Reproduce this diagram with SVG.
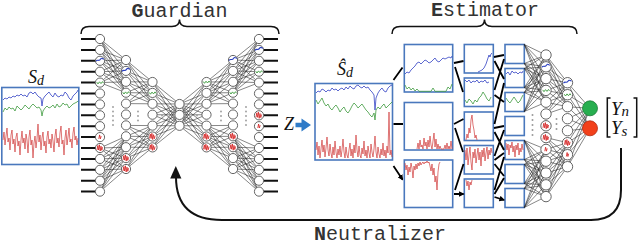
<svg xmlns="http://www.w3.org/2000/svg" xmlns:xlink="http://www.w3.org/1999/xlink" width="640" height="245" viewBox="0 0 640 245">
<style>
.lbl{font-family:"Liberation Mono","DejaVu Sans Mono",monospace;font-size:20px;fill:#333}
.b{font-weight:bold}
.math{font-family:"Liberation Serif","DejaVu Serif",serif;font-style:italic;fill:#111}
.brace{fill:none;stroke:#111;stroke-width:1.5}
.stub{fill:none;stroke:#111;stroke-width:2}
.mesh{fill:none;stroke:#222;stroke-width:0.55;stroke-linejoin:round}
.nd{fill:#fff;stroke:#555;stroke-width:0.9}
.dot{fill:#999}
.box{fill:#fff;stroke:#4a78bd;stroke-width:1.6}
.sb{fill:none;stroke:#3343c4;stroke-width:0.8}
.sg{fill:none;stroke:#3f9a3f;stroke-width:0.8}
.sr{fill:none;stroke:#d03a3a;stroke-width:0.7}
.arr{fill:none;stroke:#000;stroke-width:1.8;marker-end:url(#ah)}
.mb{fill:none;stroke:#2a3fbf;stroke-width:1.1}
.mg{fill:none;stroke:#3a9a3a;stroke-width:0.9}
.mr{fill:none;stroke:#d42020;stroke-width:0.8}
</style>
<defs>
<marker id="ah" viewBox="0 0 10 10" refX="8" refY="5" markerWidth="3.2" markerHeight="3.2" orient="auto"><path d="M0 0L10 5L0 10z" fill="#000"/></marker>
<path id="kb" class="mb" d="M-4 0.5C-2.5 -2 -1 1 0.5 -1.5S3 -1 4 -2"/>
<path id="kg" class="mg" d="M-3.3 -0.5L-2 1.3L-0.5 -0.8L1 1L2.5 -1L3.5 0.5"/>
<path id="kr" class="mr" d="M-3 2L-2.2 -2.5L-1.4 2L-0.6 -3.2L0.2 3L1 -1.8L1.8 2.3L2.6 -0.8"/>
<path id="ks" class="mr" d="M-1.2 1.8L-0.4 -2.2L0.4 1.8L1.2 -1"/>
</defs>
<rect width="640" height="245" fill="#fff"/>

<g id="sd">
<rect class="box" x="1.8" y="87.5" width="77" height="77"/>
<polyline class="sb" points="3,100 5,98 7,99 9,97 11,98 13,96 15,97 17,95 19,96 21,94 23,96 25,95 27,97 29,93 31,92 33,94 35,92 37,95 39,97 41,98 42,106 43,99 45,96 47,94 49,92 51,95 53,97 55,93 57,96 59,97 61,95 63,96 65,92 67,94 69,98 71,100 73,96 75,94 77,92 78,90"/>
<polyline class="sg" points="3,112 5,108 7,110 9,107 11,109 13,108 15,111 17,106 19,108 21,110 23,108 25,105 27,107 29,109 31,106 33,104 35,106 37,108 39,107 41,110 42,116 43,111 45,108 47,106 49,108 51,107 53,105 55,108 57,104 59,107 61,106 63,103 65,105 67,104 69,108 71,106 73,104 75,103 77,102 78,101"/>
<polyline class="sr" points="3,140 4,132 5,145 6,136 7,128 8,142 9,138 10,150 11,135 12,130 13,144 14,139 15,152 16,137 17,133 18,146 19,141 20,155 21,140 22,131 23,143 24,138 25,149 26,134 27,140 28,153 29,137 30,130 31,145 32,140 33,158 34,143 35,136 36,148 37,139 38,124 39,142 40,135 41,150 42,138 43,132 44,146 45,141 46,153 47,137 48,131 49,144 50,139 51,148 52,134 53,141 54,152 55,136 56,129 57,143 58,138 59,147 60,133 61,126 62,144 63,140 64,155 65,138 66,130 67,145 68,137 69,128 70,142 71,139 72,148 73,133 74,127 75,140 76,136 77,145 78,138"/>
<text class="math" x="28" y="83" font-size="18">S<tspan font-size="14" dy="1.5">d</tspan></text>
</g>

<g id="guardian">
<path class="brace" d="M81 34Q81 26.5 89 26.5H172Q179.5 26.5 179.5 19.5Q179.5 26.5 187 26.5H271Q279 26.5 279 34"/>
<text class="lbl" x="179.5" y="16.5" text-anchor="middle"><tspan class="b">G</tspan>uardian</text>
<g id="gL">
<path class="stub" d="M81 39H95.5M81 49.9H95.5M81 60.8H95.5M81 71.7H95.5M81 82.6H95.5M81 93.5H95.5M81 104.4H95.5M81 115.3H95.5M81 126.2H95.5M81 137.1H95.5M81 148H95.5M81 158.9H95.5M81 169.8H95.5M81 180.7H95.5M81 191.6H95.5"/>
<path class="mesh" d="M126 60L100 39L126 70.9M126 81.8L100 39L126 92.7M126 60L100 49.9L126 70.9M126 81.8L100 49.9L126 92.7M126 60L100 60.8L126 70.9M126 81.8L100 60.8L126 92.7M126 60L100 71.7L126 70.9M126 81.8L100 71.7L126 92.7M126 60L100 82.6L126 70.9M126 81.8L100 82.6L126 92.7M126 136.3L100 148L126 147.2M126 158.1L100 148L126 169M126 136.3L100 158.9L126 147.2M126 158.1L100 158.9L126 169M126 136.3L100 169.8L126 147.2M126 158.1L100 169.8L126 169M126 136.3L100 180.7L126 147.2M126 158.1L100 180.7L126 169M126 136.3L100 191.6L126 147.2M126 158.1L100 191.6L126 169M126 60L152.5 82L126 70.9M126 81.8L152.5 82L126 92.7M126 103.6L152.5 82M126 60L152.5 92.9L126 70.9M126 81.8L152.5 92.9L126 92.7M126 103.6L152.5 92.9M126 60L152.5 103.8L126 70.9M126 81.8L152.5 103.8L126 92.7M126 103.6L152.5 103.8M126 125.4L152.5 125.6L126 136.3M126 147.2L152.5 125.6L126 158.1M126 169L152.5 125.6M126 125.4L152.5 136.5L126 136.3M126 147.2L152.5 136.5L126 158.1M126 169L152.5 136.5M126 125.4L152.5 147.4L126 136.3M126 147.2L152.5 147.4L126 158.1M126 169L152.5 147.4M152.5 82L179.5 104L152.5 92.9M152.5 103.8L179.5 104L152.5 114.7M152.5 125.6L179.5 104L152.5 136.5M152.5 147.4L179.5 104M152.5 82L179.5 114.9L152.5 92.9M152.5 103.8L179.5 114.9L152.5 114.7M152.5 125.6L179.5 114.9L152.5 136.5M152.5 147.4L179.5 114.9M152.5 82L179.5 125.8L152.5 92.9M152.5 103.8L179.5 125.8L152.5 114.7M152.5 125.6L179.5 125.8L152.5 136.5M152.5 147.4L179.5 125.8"/>
<g class="nd">
<circle cx="100" cy="39" r="4.6"/><circle cx="100" cy="49.9" r="4.6"/><circle cx="100" cy="60.8" r="4.6"/><circle cx="100" cy="71.7" r="4.6"/><circle cx="100" cy="82.6" r="4.6"/><circle cx="100" cy="93.5" r="4.6"/><circle cx="100" cy="104.4" r="4.6"/><circle cx="100" cy="115.3" r="4.6"/><circle cx="100" cy="126.2" r="4.6"/><circle cx="100" cy="137.1" r="4.6"/><circle cx="100" cy="148" r="4.6"/><circle cx="100" cy="158.9" r="4.6"/><circle cx="100" cy="169.8" r="4.6"/><circle cx="100" cy="180.7" r="4.6"/><circle cx="100" cy="191.6" r="4.6"/>
<circle cx="126" cy="60" r="4.6"/><circle cx="126" cy="70.9" r="4.6"/><circle cx="126" cy="81.8" r="4.6"/><circle cx="126" cy="92.7" r="4.6"/><circle cx="126" cy="103.6" r="4.6"/><circle cx="126" cy="114.5" r="4.6"/><circle cx="126" cy="125.4" r="4.6"/><circle cx="126" cy="136.3" r="4.6"/><circle cx="126" cy="147.2" r="4.6"/><circle cx="126" cy="158.1" r="4.6"/><circle cx="126" cy="169" r="4.6"/>
<circle cx="152.5" cy="82" r="4.6"/><circle cx="152.5" cy="92.9" r="4.6"/><circle cx="152.5" cy="103.8" r="4.6"/><circle cx="152.5" cy="114.7" r="4.6"/><circle cx="152.5" cy="125.6" r="4.6"/><circle cx="152.5" cy="136.5" r="4.6"/><circle cx="152.5" cy="147.4" r="4.6"/>
</g>
<g class="dot">
<circle cx="113" cy="107" r="0.9"/><circle cx="113" cy="111.5" r="0.9"/><circle cx="113" cy="116" r="0.9"/><circle cx="113" cy="120.5" r="0.9"/><circle cx="113" cy="125" r="0.9"/>
<circle cx="138" cy="111.5" r="0.9"/><circle cx="138" cy="116" r="0.9"/><circle cx="138" cy="120.5" r="0.9"/>
<circle cx="162" cy="115.5" r="0.9"/>
</g>
</g>
<use xlink:href="#gL" href="#gL" transform="matrix(-1 0 0 1 359 0)"/>
<g class="nd"><circle cx="179.5" cy="104" r="4.6"/><circle cx="179.5" cy="114.9" r="4.6"/><circle cx="179.5" cy="125.8" r="4.6"/></g>
<use href="#kb" x="100" y="60.8"/><use href="#kg" x="100" y="82.6"/><use href="#ks" x="100" y="137.1"/><use href="#kr" x="100" y="148"/>
<use href="#kb" x="126" y="70.9"/><use href="#kg" x="126" y="92.7"/><use href="#kr" x="126" y="158.1"/><use href="#kr" x="126" y="169"/>
<use href="#kg" x="152.5" y="92.9"/><use href="#kr" x="152.5" y="136.5"/><use href="#kr" x="152.5" y="147.4"/>
<use href="#kg" x="206.5" y="82"/><use href="#kr" x="206.5" y="136.5"/><use href="#kr" x="206.5" y="147.4"/>
<use href="#kb" x="233" y="60"/><use href="#kg" x="233" y="92.7"/><use href="#kr" x="233" y="136.3"/><use href="#kr" x="233" y="147.2"/>
<use href="#kb" x="259" y="49.9"/><use href="#kg" x="259" y="71.7"/><use href="#kr" x="259" y="115.3"/><use href="#ks" x="259" y="126.2"/>
</g>

<g id="z-label">
<text class="math" x="284" y="130" font-size="18">Z</text>
</g>

<g id="sd-hat">
<rect class="box" x="315" y="83.5" width="77.5" height="76.5"/>
<polyline class="sb" points="316,93 318,91 320,92 322,89 324,90 326,92 328,90 330,91 332,88 334,90 336,89 338,91 340,89 342,88 344,90 346,87 348,89 350,86 352,88 354,89 356,86 358,85 360,87 362,88 364,86 366,88 368,87 370,90 372,92 374,95 375,110 376,98 378,93 380,90 382,88 384,91 386,92 388,88 390,86 392,85"/>
<polyline class="sg" points="316,100 318,104 320,101 322,98 324,103 326,106 328,104 330,108 332,110 334,107 336,105 338,108 340,112 342,109 344,107 346,111 348,113 350,110 352,106 354,103 356,105 358,108 360,106 362,104 364,107 366,110 368,112 370,115 372,117 374,113 375,120 376,110 378,107 380,109 382,106 384,104 386,108 388,106 390,104 392,102"/>
<polyline class="sr" points="316,150 317,142 318,155 319,146 320,158 321,149 322,140 323,152 324,145 325,157 326,148 327,137 328,150 329,156 330,144 331,153 332,158 333,147 334,155 335,141 336,152 337,158 338,149 339,155 340,146 341,157 342,150 343,139 344,152 345,158 346,147 347,155 348,158 349,150 350,143 351,156 352,149 353,158 354,145 355,153 356,135 357,150 358,157 359,146 360,155 361,158 362,148 363,154 364,141 365,156 366,150 367,158 368,146 369,153 370,158 371,144 372,152 373,157 374,149 375,136 376,152 377,158 378,147 379,154 380,158 381,149 382,155 383,143 384,156 385,150 386,158 387,146 388,153 389,112 390,155 391,150 392,157"/>
<text class="math" x="337" y="75" font-size="18">Ŝ<tspan font-size="14" dy="1.5">d</tspan></text>
</g>

<g id="estimator">
<path class="brace" d="M392 34Q392 26.5 400 26.5H477Q484.5 26.5 484.5 19.5Q484.5 26.5 492 26.5H569Q577 26.5 577 34"/>
<text class="lbl" x="485" y="15.5" text-anchor="middle"><tspan class="b">E</tspan>stimator</text>
<g id="conv1">
<rect class="box" x="404.3" y="44.5" width="48.4" height="47.5"/>
<rect class="box" x="404.3" y="102.5" width="48.4" height="47.5"/>
<rect class="box" x="404.3" y="160" width="48.4" height="47.5"/>
<polyline class="sb" points="405,74 407,72 409,73 411,70 413,68 415,66 417,63 419,62 421,64 423,62 425,60 427,61 429,63 431,62 433,60 435,58 437,61 439,62 441,60 443,58 445,59 447,58 449,57 451,58 452,56"/>
<polyline class="sg" points="405,85 407,89 409,87 411,90 413,88 415,91 417,89 419,91.3 431,91.3 433,88 435,91.3 446,91.3 448,87 450,89 452,84"/>
<polyline class="sr" points="417,149 418,143 419,149 420,140 421,147 422,145 423,149 424,138 425,146 426,142 427,149 428,140 429,147 430,136 431,145 432,149 433,141 434,133 435,147 436,139 437,149 438,144 439,149 440,146 441,149 444,149 445,145 446,149 447,143 448,149 449,146 450,149 451,141 452,149"/>
<polyline class="sr" points="405,163 406,170 407,165 408,175 409,167 410,172 411,163 412,168 413,178 414,166 415,170 416,164 417,169 418,163 419,166 420,162 421,165 422,163 423,162 424,164 425,162 426,163 427,161 428,163 429,162 430,166 431,171 432,164 433,175 434,168 435,182 436,176 437,190 438,172 439,164 440,162"/>
</g>
<g id="conv2">
<rect class="box" x="464.3" y="44.5" width="29" height="28.5"/>
<rect class="box" x="464.3" y="78" width="29" height="28.5"/>
<rect class="box" x="464.3" y="112" width="29" height="28.5"/>
<rect class="box" x="464.3" y="145.5" width="29" height="28.5"/>
<rect class="box" x="464.3" y="179" width="29" height="28.5"/>
<polyline class="sb" points="478,72 480,71 482,70 484,68 486,64 488,58 489,55 490,57 491,54 492,53"/>
<polyline class="sb" points="465,80 467,82 469,80 471,83 473,81 475,82 477,80 479,83 481,81 483,82 485,80 487,83 489,82"/>
<polyline class="sg" points="465,100 467,103 469,99 471,101 473,104 475,100 477,102 479,98 481,96 483,92 485,95 487,99 489,101 491,97"/>
<polyline class="sr" points="466,140 467,134 468,138 469,128 470,133 471,120 472,115 473,125 474,130 475,138 476,135 477,140"/>
<polyline class="sr" points="465,150 466,160 467,148 468,165 469,155 470,147 471,162 472,170 473,152 474,158 475,149 476,163 477,155 478,148 479,160 480,152 481,166 482,150 483,157 484,148 485,161 486,153 487,147 488,159 489,150 490,155 491,148 492,153"/>
<polyline class="sr" points="466,180 467,186 468,181 469,190 470,182 471,185 472,180"/>
</g>
<g id="conv3">
<rect class="box" x="505" y="44.5" width="19.3" height="19"/>
<rect class="box" x="505" y="68.5" width="19.3" height="19"/>
<rect class="box" x="505" y="92.5" width="19.3" height="19"/>
<rect class="box" x="505" y="116.5" width="19.3" height="19"/>
<rect class="box" x="505" y="140.5" width="19.3" height="19"/>
<rect class="box" x="505" y="164.5" width="19.3" height="19"/>
<rect class="box" x="505" y="188.5" width="19.3" height="19"/>
<polyline class="sb" points="506,74 508,72 510,75 512,71 514,73 516,72 518,74 520,72 522,73 523,71"/>
<polyline class="sg" points="506,98 508,101 510,103 512,100 514,97 516,100 518,103 520,101 522,97 523,95"/>
<polyline class="sr" points="506,143 507,150 508,144 509,155 510,145 511,148 512,142 513,152 514,146 515,157 516,145 517,150 518,143 519,155 520,148 521,152 522,144 523,150"/>
</g>
<g id="fc">
<path class="mesh" d="M524.3 44.5L546 55L524.3 63.5M524.3 68.5L546 55L524.3 87.5M524.3 92.5L546 55L524.3 111.5M524.3 44.5L546 66.8L524.3 63.5M524.3 68.5L546 66.8L524.3 87.5M524.3 92.5L546 66.8L524.3 111.5M524.3 44.5L546 78.6L524.3 63.5M524.3 68.5L546 78.6L524.3 87.5M524.3 92.5L546 78.6L524.3 111.5M524.3 44.5L546 90.4L524.3 63.5M524.3 68.5L546 90.4L524.3 87.5M524.3 92.5L546 90.4L524.3 111.5M524.3 44.5L546 102.2L524.3 63.5M524.3 68.5L546 102.2L524.3 87.5M524.3 92.5L546 102.2L524.3 111.5M524.3 140.5L546 149.4L524.3 159.5M524.3 164.5L546 149.4L524.3 183.5M524.3 188.5L546 149.4L524.3 207.5M524.3 140.5L546 161.2L524.3 159.5M524.3 164.5L546 161.2L524.3 183.5M524.3 188.5L546 161.2L524.3 207.5M524.3 140.5L546 173L524.3 159.5M524.3 164.5L546 173L524.3 183.5M524.3 188.5L546 173L524.3 207.5M524.3 140.5L546 184.8L524.3 159.5M524.3 164.5L546 184.8L524.3 183.5M524.3 188.5L546 184.8L524.3 207.5M524.3 140.5L546 196.6L524.3 159.5M524.3 164.5L546 196.6L524.3 183.5M524.3 188.5L546 196.6L524.3 207.5M546 55L567.5 82.7L546 66.8M546 78.6L567.5 82.7L546 90.4M546 102.2L567.5 82.7L546 114M546 55L567.5 94.7L546 66.8M546 78.6L567.5 94.7L546 90.4M546 102.2L567.5 94.7L546 114M546 55L567.5 106.7L546 66.8M546 78.6L567.5 106.7L546 90.4M546 102.2L567.5 106.7L546 114M546 137.6L567.5 142.7L546 149.4M546 161.2L567.5 142.7L546 173M546 184.8L567.5 142.7L546 196.6M546 137.6L567.5 154.7L546 149.4M546 161.2L567.5 154.7L546 173M546 184.8L567.5 154.7L546 196.6M546 137.6L567.5 166.7L546 149.4M546 161.2L567.5 166.7L546 173M546 184.8L567.5 166.7L546 196.6M567.5 82.7L590 108.3L567.5 94.7M567.5 106.7L590 108.3L567.5 118.7M567.5 130.7L590 108.3L567.5 142.7M567.5 154.7L590 108.3L567.5 166.7M567.5 82.7L590 128.3L567.5 94.7M567.5 106.7L590 128.3L567.5 118.7M567.5 130.7L590 128.3L567.5 142.7M567.5 154.7L590 128.3L567.5 166.7"/>
<g class="nd">
<circle cx="546" cy="55" r="5.2"/><circle cx="546" cy="66.8" r="5.2"/><circle cx="546" cy="78.6" r="5.2"/><circle cx="546" cy="90.4" r="5.2"/><circle cx="546" cy="102.2" r="5.2"/><circle cx="546" cy="114" r="5.2"/><circle cx="546" cy="125.8" r="5.2"/><circle cx="546" cy="137.6" r="5.2"/><circle cx="546" cy="149.4" r="5.2"/><circle cx="546" cy="161.2" r="5.2"/><circle cx="546" cy="173" r="5.2"/><circle cx="546" cy="184.8" r="5.2"/><circle cx="546" cy="196.6" r="5.2"/>
<circle cx="567.5" cy="82.7" r="5.2"/><circle cx="567.5" cy="94.7" r="5.2"/><circle cx="567.5" cy="106.7" r="5.2"/><circle cx="567.5" cy="118.7" r="5.2"/><circle cx="567.5" cy="130.7" r="5.2"/><circle cx="567.5" cy="142.7" r="5.2"/><circle cx="567.5" cy="154.7" r="5.2"/><circle cx="567.5" cy="166.7" r="5.2"/>
</g>
<g class="dot">
<circle cx="532.5" cy="115" r="1"/><circle cx="532.5" cy="120" r="1"/><circle cx="532.5" cy="125" r="1"/><circle cx="532.5" cy="130" r="1"/><circle cx="532.5" cy="135" r="1"/>
<circle cx="556.5" cy="119" r="1"/><circle cx="556.5" cy="124" r="1"/><circle cx="556.5" cy="129" r="1"/>
</g>
<use href="#kb" x="546" y="66.8"/><use href="#kg" x="546" y="90.4"/><use href="#kr" x="546" y="125.8"/><use href="#kr" x="546" y="137.6"/><use href="#ks" x="546" y="149.4"/>
<use href="#kb" x="567.5" y="82.7"/><use href="#kg" x="567.5" y="94.7"/><use href="#kr" x="567.5" y="142.7"/><use href="#ks" x="567.5" y="154.7"/>
</g>
</g>

<g id="output">
<circle cx="590" cy="108.3" r="7.5" fill="#27ae4f" stroke="#1b7a36" stroke-width="0.8"/>
<circle cx="590" cy="128.3" r="7.5" fill="#f2401a" stroke="#b22a10" stroke-width="0.8"/>
<path class="brace" d="M610.5 98H607.3V137H610.5M633.5 98H636.7V137H633.5"/>
<text class="math" x="611" y="114.5" font-size="19">Y<tspan font-size="15" dy="1.5">n</tspan></text>
<text class="math" x="611" y="134" font-size="19">Y<tspan font-size="15" dy="1.5">s</tspan></text>
</g>

<g id="connectors">
<path d="M295.5 122.8H301.5V118.5L311 125L301.5 131.5V127.2H295.5Z" fill="#2f7bc8"/>
<path class="arr" d="M393.5 80L402.5 67.5M393.5 124L403 124M393.5 166L402.5 179.5"/>
<path class="arr" d="M454 63L463.5 61M455 67L463 92M454 124L463.5 119M455 128L463 152M455 190L463.5 164M454 194L463.5 194"/>
<path class="arr" d="M494 57L504 55M494.5 61L504 79M494.5 90L504 59M494.5 95L504 102M494.5 124L504 83M494 128L504 126M494.5 132L504 150M494.5 156L504 130M494.5 160L504 153M494.5 164L504 176M494.5 190L504 157M494.5 194L504 178M494.5 197L504 200"/>
<path d="M621 148V190Q621 220 591 220H222Q176 220 176 177" fill="none" stroke="#111" stroke-width="2"/>
<path d="M175.8 166L170.2 178.5H181.4Z" fill="#111"/>
<text class="lbl" x="380" y="240" text-anchor="middle"><tspan class="b">N</tspan>eutralizer</text>
</g>
</svg>
